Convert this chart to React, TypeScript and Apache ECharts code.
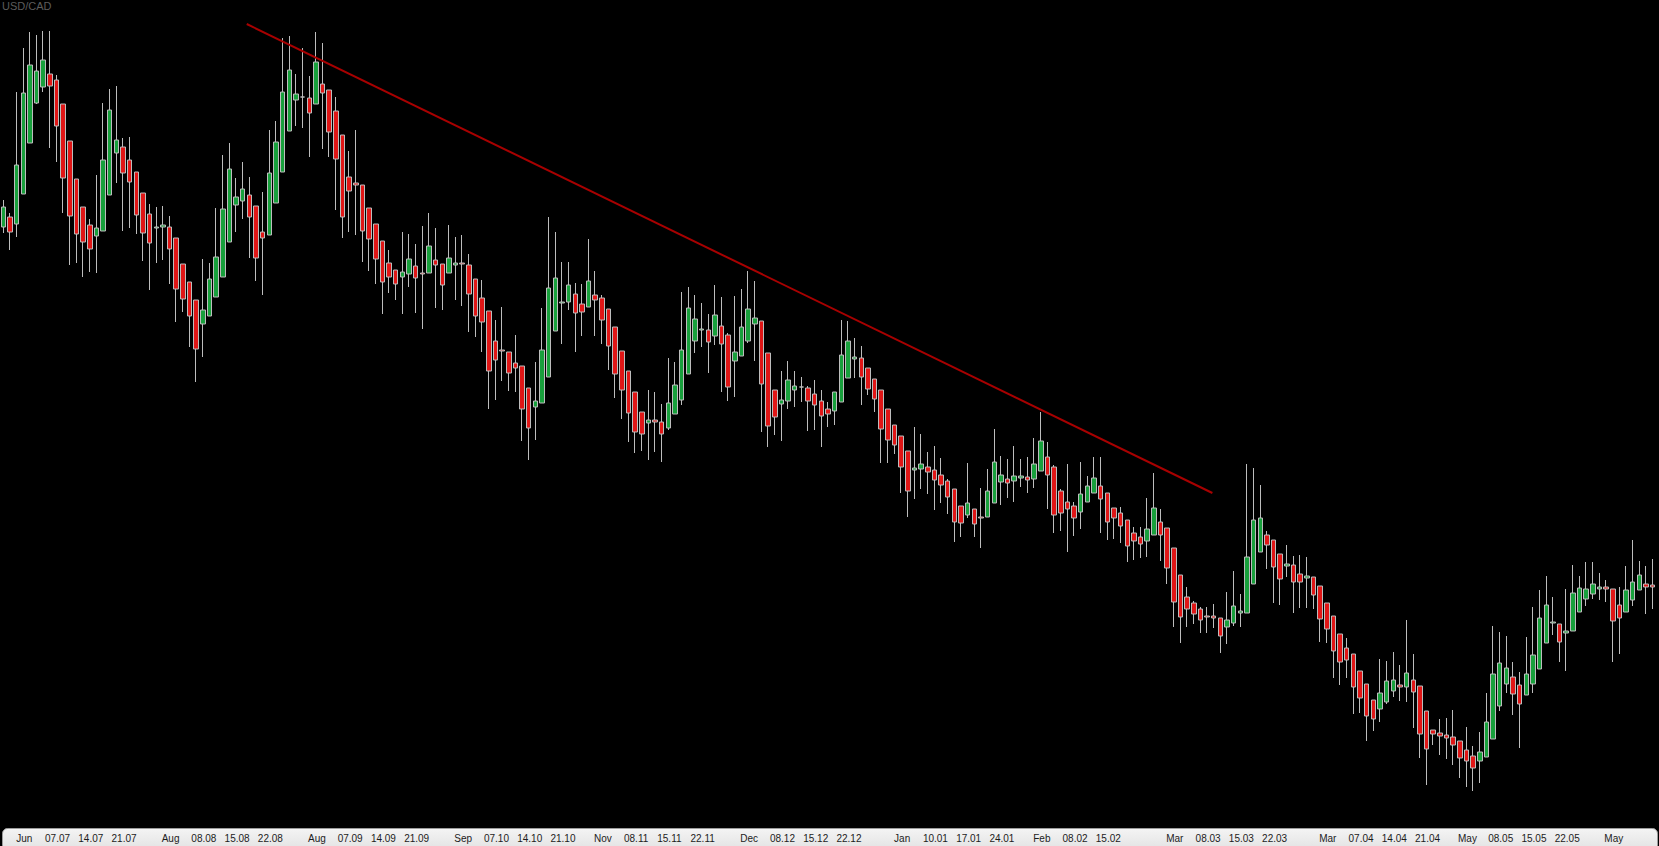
import React, { useEffect, useRef } from "react";
import * as echarts from "echarts";

// USD/CAD daily candles (price = 1.4xxx)
const openPrices = [
  1.4773,1.4783,1.4776,1.4806,1.4857,1.4897,1.4913,1.4926,1.4920,1.4896,
  1.4859,1.4821,1.4793,1.4775,1.4764,1.4769,1.4805,1.4847,1.4853,1.4840,
  1.4828,1.4807,1.4786,1.4772,1.4773,1.4773,1.4762,1.4736,1.4718,1.4700,
  1.4676,1.4684,1.4703,1.4723,1.4758,1.4795,1.4799,1.4805,1.4794,1.4768,
  1.4765,1.4797,1.4828,1.4869,1.4900,1.4903,1.4902,1.4896,1.4916,1.4910,
  1.4889,1.4865,1.4823,1.4817,1.4815,1.4792,1.4776,1.4759,1.4737,1.4730,
  1.4723,1.4726,1.4734,1.4727,1.4727,1.4740,1.4736,1.4727,1.4735,1.4737,
  1.4735,1.4721,1.4702,1.4689,1.4659,1.4650,1.4648,1.4637,1.4634,1.4612,
  1.4593,1.4597,1.4623,1.4669,1.4697,1.4698,1.4706,1.4696,1.4693,1.4705,
  1.4702,1.4691,1.4673,1.4649,1.4629,1.4608,1.4588,1.4577,1.4580,1.4578,
  1.4572,1.4586,1.4600,1.4626,1.4659,1.4670,1.4670,1.4664,1.4674,1.4665,
  1.4639,1.4644,1.4659,1.4676,1.4679,1.4647,1.4610,1.4596,1.4599,1.4610,
  1.4613,1.4612,1.4606,1.4599,1.4591,1.4589,1.4598,1.4622,1.4641,1.4642,
  1.4632,1.4621,1.4610,1.4591,1.4575,1.4564,1.4549,1.4530,1.4531,1.4533,
  1.4530,1.4525,1.4519,1.4511,1.4494,1.4485,1.4491,1.4483,1.4483,1.4497,
  1.4518,1.4521,1.4519,1.4522,1.4523,1.4521,1.4529,1.4543,1.4533,1.4509,
  1.4498,1.4494,1.4488,1.4498,1.4507,1.4514,1.4507,1.4492,1.4487,1.4480,
  1.4467,1.4463,1.4459,1.4465,1.4478,1.4472,1.4452,1.4425,1.4403,1.4397,
  1.4391,1.4384,1.4384,1.4382,1.4373,1.4377,1.4387,1.4387,1.4416,1.4448,
  1.4465,1.4460,1.4446,1.4434,1.4435,1.4426,1.4422,1.4423,1.4414,1.4397,
  1.4384,1.4366,1.4352,1.4346,1.4329,1.4316,1.4300,1.4291,1.4298,1.4309,
  1.4315,1.4313,1.4320,1.4314,1.4289,1.4270,1.4267,1.4265,1.4263,1.4259,
  1.4250,1.4244,1.4239,1.4243,1.4261,1.4294,1.4316,1.4323,1.4315,1.4305,
  1.4316,1.4331,1.4357,1.4377,1.4376,1.4367,1.4369,1.4388,1.4401,1.4406,
  1.4411,1.4413,1.4411,1.4395,1.4388,1.4400,1.4410,1.4416,1.4415
];

const closePrices = [
  1.4793,1.4768,1.4835,1.4907,1.4935,1.4929,1.4940,1.4914,1.4874,1.4822,
  1.4784,1.4766,1.4758,1.4751,1.4772,1.4840,1.4890,1.4860,1.4827,1.4818,
  1.4785,1.4767,1.4757,1.4773,1.4775,1.4751,1.4711,1.4701,1.4684,1.4651,
  1.4690,1.4721,1.4743,1.4791,1.4831,1.4803,1.4811,1.4783,1.4742,1.4762,
  1.4827,1.4858,1.4908,1.4930,1.4906,1.4903,1.4887,1.4938,1.4907,1.4868,
  1.4841,1.4783,1.4809,1.4815,1.4769,1.4761,1.4741,1.4718,1.4723,1.4716,
  1.4728,1.4741,1.4722,1.4726,1.4754,1.4735,1.4715,1.4742,1.4737,1.4736,
  1.4706,1.4684,1.4678,1.4629,1.4640,1.4649,1.4627,1.4632,1.4591,1.4572,
  1.4599,1.4650,1.4712,1.4722,1.4698,1.4715,1.4687,1.4688,1.4719,1.4700,
  1.4680,1.4654,1.4626,1.4610,1.4587,1.4568,1.4566,1.4580,1.4578,1.4566,
  1.4597,1.4615,1.4650,1.4692,1.4681,1.4671,1.4658,1.4685,1.4656,1.4613,
  1.4648,1.4673,1.4691,1.4682,1.4616,1.4574,1.4583,1.4600,1.4620,1.4614,
  1.4613,1.4599,1.4595,1.4584,1.4586,1.4608,1.4645,1.4659,1.4643,1.4623,
  1.4611,1.4601,1.4571,1.4560,1.4555,1.4533,1.4509,1.4532,1.4536,1.4528,
  1.4520,1.4515,1.4503,1.4478,1.4477,1.4497,1.4476,1.4482,1.4509,1.4538,
  1.4525,1.4517,1.4524,1.4524,1.4520,1.4536,1.4559,1.4525,1.4485,1.4487,
  1.4491,1.4482,1.4506,1.4514,1.4522,1.4501,1.4478,1.4482,1.4474,1.4454,
  1.4459,1.4456,1.4471,1.4492,1.4465,1.4432,1.4398,1.4383,1.4391,1.4386,
  1.4380,1.4383,1.4382,1.4364,1.4380,1.4394,1.4389,1.4443,1.4480,1.4482,
  1.4455,1.4433,1.4421,1.4436,1.4418,1.4418,1.4424,1.4405,1.4381,1.4371,
  1.4349,1.4338,1.4340,1.4313,1.4302,1.4284,1.4281,1.4307,1.4319,1.4320,
  1.4313,1.4327,1.4308,1.4266,1.4251,1.4266,1.4264,1.4262,1.4255,1.4242,
  1.4239,1.4232,1.4248,1.4278,1.4326,1.4337,1.4332,1.4306,1.4296,1.4326,
  1.4345,1.4382,1.4395,1.4378,1.4358,1.4369,1.4407,1.4412,1.4411,1.4416,
  1.4413,1.4411,1.4379,1.4382,1.4410,1.4418,1.4425,1.4413,1.4413
];

const lowPrices = [
  1.4767,1.4750,1.4763,1.4806,1.4857,1.4896,1.4908,1.4852,1.4838,1.4787,
  1.4735,1.4737,1.4723,1.4728,1.4727,1.4769,1.4805,1.4817,1.4769,1.4772,
  1.4766,1.4739,1.4710,1.4737,1.4740,1.4716,1.4678,1.4688,1.4653,1.4618,
  1.4643,1.4684,1.4703,1.4723,1.4758,1.4768,1.4781,1.4742,1.4719,1.4705,
  1.4765,1.4797,1.4828,1.4869,1.4874,1.4872,1.4843,1.4896,1.4851,1.4843,
  1.4790,1.4762,1.4768,1.4765,1.4738,1.4729,1.4716,1.4686,1.4707,1.4700,
  1.4686,1.4713,1.4687,1.4671,1.4727,1.4692,1.4690,1.4727,1.4700,1.4694,
  1.4668,1.4663,1.4648,1.4591,1.4600,1.4619,1.4609,1.4608,1.4559,1.4540,
  1.4560,1.4597,1.4623,1.4669,1.4656,1.4690,1.4648,1.4664,1.4693,1.4664,
  1.4656,1.4630,1.4602,1.4581,1.4558,1.4547,1.4549,1.4540,1.4548,1.4538,
  1.4570,1.4586,1.4595,1.4626,1.4647,1.4653,1.4627,1.4655,1.4608,1.4599,
  1.4603,1.4644,1.4657,1.4639,1.4568,1.4553,1.4565,1.4559,1.4591,1.4593,
  1.4598,1.4569,1.4570,1.4553,1.4573,1.4575,1.4598,1.4622,1.4622,1.4595,
  1.4605,1.4588,1.4537,1.4537,1.4546,1.4507,1.4483,1.4501,1.4511,1.4506,
  1.4490,1.4497,1.4486,1.4458,1.4463,1.4482,1.4463,1.4452,1.4483,1.4497,
  1.4495,1.4502,1.4498,1.4513,1.4507,1.4512,1.4529,1.4491,1.4467,1.4469,
  1.4448,1.4464,1.4471,1.4498,1.4507,1.4467,1.4460,1.4461,1.4457,1.4438,
  1.4440,1.4442,1.4443,1.4465,1.4439,1.4416,1.4373,1.4357,1.4373,1.4376,
  1.4367,1.4367,1.4372,1.4347,1.4356,1.4374,1.4373,1.4387,1.4416,1.4448,
  1.4431,1.4397,1.4395,1.4423,1.4387,1.4392,1.4392,1.4391,1.4358,1.4357,
  1.4322,1.4315,1.4322,1.4286,1.4287,1.4259,1.4269,1.4278,1.4296,1.4303,
  1.4299,1.4298,1.4272,1.4242,1.4215,1.4255,1.4245,1.4241,1.4235,1.4222,
  1.4213,1.4209,1.4217,1.4243,1.4261,1.4289,1.4307,1.4285,1.4252,1.4305,
  1.4307,1.4331,1.4357,1.4365,1.4338,1.4329,1.4369,1.4388,1.4394,1.4401,
  1.4400,1.4398,1.4338,1.4346,1.4388,1.4394,1.4410,1.4386,1.4391
];

const highPrices = [
  1.4800,1.4787,1.4908,1.4952,1.4968,1.4965,1.4969,1.4969,1.4925,1.4896,
  1.4859,1.4821,1.4793,1.4781,1.4825,1.4897,1.4911,1.4914,1.4862,1.4863,
  1.4828,1.4807,1.4796,1.4793,1.4794,1.4784,1.4762,1.4736,1.4718,1.4700,
  1.4741,1.4737,1.4792,1.4845,1.4857,1.4822,1.4838,1.4823,1.4794,1.4808,
  1.4870,1.4879,1.4962,1.4964,1.4926,1.4952,1.4924,1.4968,1.4957,1.4910,
  1.4903,1.4865,1.4849,1.4870,1.4815,1.4792,1.4776,1.4759,1.4750,1.4730,
  1.4768,1.4766,1.4756,1.4774,1.4787,1.4772,1.4736,1.4775,1.4763,1.4765,
  1.4746,1.4721,1.4720,1.4689,1.4680,1.4693,1.4648,1.4665,1.4634,1.4612,
  1.4638,1.4692,1.4783,1.4768,1.4738,1.4738,1.4717,1.4716,1.4761,1.4729,
  1.4705,1.4691,1.4673,1.4649,1.4629,1.4608,1.4588,1.4610,1.4608,1.4596,
  1.4642,1.4638,1.4708,1.4713,1.4705,1.4697,1.4686,1.4715,1.4703,1.4667,
  1.4704,1.4711,1.4729,1.4719,1.4679,1.4647,1.4610,1.4629,1.4639,1.4629,
  1.4623,1.4614,1.4620,1.4610,1.4598,1.4608,1.4680,1.4679,1.4662,1.4654,
  1.4632,1.4621,1.4610,1.4591,1.4575,1.4564,1.4549,1.4573,1.4566,1.4548,
  1.4554,1.4542,1.4521,1.4511,1.4494,1.4537,1.4491,1.4512,1.4531,1.4571,
  1.4544,1.4541,1.4554,1.4541,1.4543,1.4562,1.4588,1.4558,1.4535,1.4511,
  1.4536,1.4498,1.4538,1.4524,1.4543,1.4543,1.4507,1.4492,1.4493,1.4480,
  1.4473,1.4473,1.4502,1.4527,1.4491,1.4472,1.4452,1.4425,1.4413,1.4399,
  1.4393,1.4393,1.4396,1.4382,1.4408,1.4429,1.4406,1.4536,1.4532,1.4515,
  1.4469,1.4460,1.4446,1.4455,1.4444,1.4445,1.4443,1.4423,1.4414,1.4397,
  1.4384,1.4366,1.4362,1.4346,1.4329,1.4316,1.4300,1.4341,1.4339,1.4348,
  1.4335,1.4380,1.4346,1.4314,1.4289,1.4270,1.4281,1.4282,1.4290,1.4259,
  1.4273,1.4254,1.4268,1.4307,1.4374,1.4368,1.4364,1.4338,1.4328,1.4363,
  1.4393,1.4410,1.4424,1.4403,1.4376,1.4411,1.4435,1.4424,1.4438,1.4438,
  1.4427,1.4420,1.4411,1.4413,1.4434,1.4460,1.4439,1.4434,1.4441
];

// bottom time-axis labels: candle index and text
const tickIndex = [
  3, 8, 13, 18, 25, 30, 35, 40, 47, 52, 57, 62, 69, 74, 79, 84,
  90, 95, 100, 105, 112, 117, 122, 127, 135, 140, 145, 150, 156, 161, 166,
  176, 181, 186, 191, 199, 204, 209, 214, 220, 225, 230, 235, 242
];
const tickText = [
  "Jun", "07.07", "14.07", "21.07", "Aug", "08.08", "15.08", "22.08",
  "Aug", "07.09", "14.09", "21.09", "Sep", "07.10", "14.10", "21.10",
  "Nov", "08.11", "15.11", "22.11", "Dec", "08.12", "15.12", "22.12",
  "Jan", "10.01", "17.01", "24.01", "Feb", "08.02", "15.02",
  "Mar", "08.03", "15.03", "22.03", "Mar", "07.04", "14.04", "21.04",
  "May", "08.05", "15.05", "22.05", "May"
];

// descending trend line (candle index, price)
const trendIndex = [36.6, 181.8];
const trendPrice = [1.4976, 1.4507];

const priceMin = 1.4172;
const priceMax = 1.5;

export default function App() {
  const ref = useRef<HTMLDivElement>(null);

  useEffect(() => {
    document.body.style.margin = "0";
    document.body.style.background = "#000";
    const chart = echarts.init(ref.current as HTMLDivElement, null, { renderer: "svg" });
    const n = openPrices.length;
    const categories = openPrices.map((_, i) => "d" + i);
    const candles = openPrices.map((o, i) => [o, closePrices[i], lowPrices[i], highPrices[i]]);
    const trendData = trendIndex.map((x, i) => [x, trendPrice[i]]);

    chart.setOption({
      animation: false,
      backgroundColor: "#000000",
      grid: { left: -5, right: 3, top: 0, bottom: 18, containLabel: false },
      xAxis: [
        {
          type: "category",
          data: categories,
          boundaryGap: true,
          axisLine: { show: false },
          axisTick: { show: false },
          splitLine: { show: false },
          axisLabel: {
            interval: (index: number) => tickIndex.indexOf(index) >= 0,
            formatter: (_v: string, index: number) => {
              const k = tickIndex.indexOf(index);
              return k >= 0 ? tickText[k] : "";
            },
            color: "#1c1c1c",
            fontSize: 10,
            fontFamily: "Liberation Sans",
            margin: 5,
            padding: [0, 0, 0, 2],
          },
        },
        {
          type: "value",
          min: -0.5,
          max: n - 0.5,
          show: false,
        },
      ],
      yAxis: {
        type: "value",
        min: priceMin,
        max: priceMax,
        show: false,
        splitLine: { show: false },
      },
      series: [
        {
          type: "candlestick",
          xAxisIndex: 0,
          data: candles,
          barWidth: 5,
          itemStyle: {
            color: "#18a03c",
            color0: "#e01616",
            borderColor: "#bdbdbd",
            borderColor0: "#bdbdbd",
            borderColorDoji: "#bdbdbd",
            borderWidth: 1,
          },
        },
        {
          type: "line",
          xAxisIndex: 1,
          data: trendData,
          symbol: "none",
          lineStyle: { color: "#a80000", width: 2 },
          z: 5,
        },
      ],
      graphic: [
        {
          type: "rect",
          left: 2,
          top: 828,
          z: -100,
          shape: { width: 1655, height: 22, r: 5 },
          style: {
            fill: new echarts.graphic.LinearGradient(0, 0, 0, 1, [
              { offset: 0, color: "#f4f4f4" },
              { offset: 1, color: "#e2e2e2" },
            ]),
            stroke: "#9c9c9c",
            lineWidth: 1,
          },
        },
        {
          type: "text",
          left: 2,
          top: 0,
          style: {
            text: "USD/CAD",
            fill: "#5c5c5c",
            font: "11px 'Liberation Sans'",
          },
        },
      ],
    });

    return () => chart.dispose();
  }, []);

  return (
    <div
      ref={ref}
      style={{ position: "absolute", left: 0, top: 0, width: 1659, height: 846, background: "#000" }}
    />
  );
}
